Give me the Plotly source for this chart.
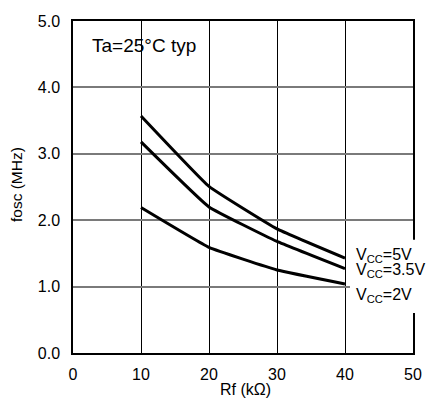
import plotly.graph_objects as go

rf = [10, 20, 30, 40]
f_5v = [3.57, 2.51, 1.87, 1.43]
f_35v = [3.18, 2.20, 1.68, 1.27]
f_2v = [2.19, 1.59, 1.25, 1.04]
series_labels = ["V<sub>CC</sub>=5V", "V<sub>CC</sub>=3.5V", "V<sub>CC</sub>=2V"]
x_ticks = [0, 10, 20, 30, 40, 50]
y_ticks = [0, 1, 2, 3, 4, 5]

FONT = "Liberation Sans, Arial, sans-serif"

# page offset from default body margin
OFF = 8
L, R, T, B = 73 - OFF, 413 - OFF, 13 - OFF, 353 - OFF
W, H = 434 - OFF, 405 - OFF

fig = go.Figure()
for ys in (f_5v, f_35v, f_2v):
    fig.add_trace(go.Scatter(x=rf, y=ys, mode="lines",
                             line=dict(color="black", width=3, shape="spline", smoothing=0.3),
                             showlegend=False, hoverinfo="skip"))

fig.update_layout(
    width=W, height=H,
    margin=dict(l=L, r=W - R, t=T, b=H - B),
    paper_bgcolor="white", plot_bgcolor="white",
    font=dict(family=FONT, color="black", size=16),
    xaxis=dict(range=[0, 50], tickvals=x_ticks, ticktext=[str(v) for v in x_ticks],
               showgrid=True, gridcolor="black", gridwidth=1,
               showline=True, linecolor="black", linewidth=1.5, mirror=True,
               ticks="", ticklabelstandoff=6, zeroline=False, ticklabeloverflow="allow",
               tickfont=dict(size=16, family=FONT)),
    yaxis=dict(range=[0, 5], tickvals=y_ticks, ticktext=[f"{v:.1f}" for v in y_ticks],
               showgrid=True, gridcolor="#7a7a7a", gridwidth=1.6,
               showline=True, linecolor="black", linewidth=1.5, mirror=True,
               ticks="", ticklabelstandoff=8, zeroline=False, ticklabeloverflow="allow",
               tickfont=dict(size=16, family=FONT)),
)

def px(x):
    return (x - OFF - L) / (R - L)

def py(y):
    return (B - (y - OFF)) / (B - T)

# white box behind the series labels
fig.add_shape(type="rect", xref="paper", yref="paper",
              x0=px(350), x1=px(440), y0=py(312), y1=py(237),
              fillcolor="white", line=dict(width=0), layer="above")

label_y = [253, 268, 294]
for lab, yy in zip(series_labels, label_y):
    fig.add_annotation(xref="paper", yref="paper", x=px(354), y=py(yy),
                       xanchor="left", yanchor="middle", text=lab, showarrow=False,
                       font=dict(size=16, family=FONT, color="black"))

fig.add_annotation(xref="paper", yref="paper", x=px(90), y=py(38),
                   xanchor="left", yanchor="middle", text="Ta=25°C typ", showarrow=False,
                   font=dict(size=19, family=FONT, color="black"))

fig.add_annotation(xref="paper", yref="paper", x=px(245), y=py(390),
                   xanchor="center", yanchor="middle", text="Rf (kΩ)", showarrow=False,
                   font=dict(size=16, family=FONT, color="black"))
fig.add_annotation(xref="paper", yref="paper", x=px(16), y=py(181),
                   xanchor="center", yanchor="middle", text="fosc (MHz)", textangle=-90,
                   showarrow=False, font=dict(size=15.5, family=FONT, color="black"))

fig.write_html("out.html")
